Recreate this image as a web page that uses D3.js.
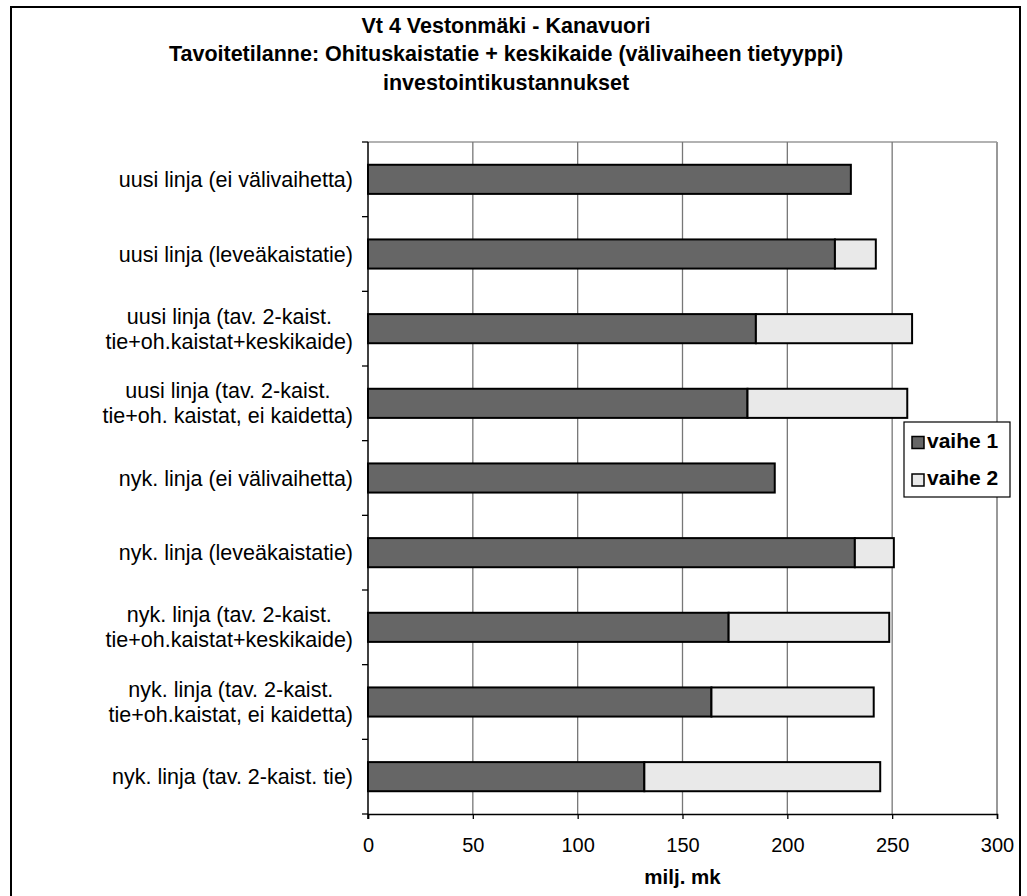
<!DOCTYPE html>
<html>
<head>
<meta charset="utf-8">
<style>
  body { margin: 0; background: #fff; }
  svg { display: block; font-family: "Liberation Sans", Arial, sans-serif; }
</style>
<script src="https://d3js.org/d3.v7.min.js"></script>
</head>
<body>
<svg width="1027" height="896"></svg>
<script>

// chart data (milj. mk)
var categories = [
  "uusi linja (ei välivaihetta)",
  "uusi linja (leveäkaistatie)",
  "uusi linja (tav. 2-kaist.\ntie+oh.kaistat+keskikaide)",
  "uusi linja (tav. 2-kaist.\ntie+oh. kaistat, ei kaidetta)",
  "nyk. linja (ei välivaihetta)",
  "nyk. linja (leveäkaistatie)",
  "nyk. linja (tav. 2-kaist.\ntie+oh.kaistat+keskikaide)",
  "nyk. linja (tav. 2-kaist.\ntie+oh.kaistat, ei kaidetta)",
  "nyk. linja (tav. 2-kaist. tie)"
];
var vaihe1 = [230.3, 222.7, 185, 181, 194, 232.2, 172, 163.8, 131.8];
var vaihe2 = [0, 19.5, 74.5, 76.2, 0, 18.6, 76.6, 77.4, 112.5];
var xTicks = [0, 50, 100, 150, 200, 250, 300];
var seriesNames = ["vaihe 1", "vaihe 2"];
var seriesColors = ["#666666", "#e9e9e9"];
var titleLines = [
  "Vt 4 Vestonmäki - Kanavuori",
  "Tavoitetilanne: Ohituskaistatie + keskikaide (välivaiheen tietyyppi)",
  "investointikustannukset"
];
var xTitle = "milj. mk";

var svg = d3.select("svg");

// outer frame
svg.append("rect")
  .attr("x", 11).attr("y", 7)
  .attr("width", 1009).attr("height", 920)
  .attr("fill", "none").attr("stroke", "#000").attr("stroke-width", 2);

var pLeft = 368, pRight = 997, pTop = 142, pBottom = 814;

var x = d3.scaleLinear().domain([0, 300]).range([pLeft, pRight]);
var y = d3.scaleBand().domain(d3.range(categories.length))
  .range([pTop, pBottom]).paddingInner(0.61).paddingOuter(0.305);

// title
svg.append("g").selectAll("text")
  .data(titleLines)
  .enter().append("text")
  .attr("x", 506)
  .attr("y", function(d, i) { return 32.5 + i * 28.5; })
  .attr("text-anchor", "middle")
  .attr("font-weight", "bold")
  .attr("font-size", 21.5)
  .text(function(d) { return d; });

// grid
svg.append("line")
  .attr("x1", pLeft).attr("x2", pRight).attr("y1", pTop).attr("y2", pTop)
  .attr("stroke", "#999").attr("stroke-width", 1.5);
svg.append("g").selectAll("line")
  .data(xTicks.slice(1))
  .enter().append("line")
  .attr("x1", function(d) { return x(d); })
  .attr("x2", function(d) { return x(d); })
  .attr("y1", pTop).attr("y2", pBottom)
  .attr("stroke", function(d) { return d == 300 ? "#999" : "#777"; })
  .attr("stroke-width", function(d) { return d == 300 ? 2 : 1.3; });

// bottom axis
var xAxis = svg.append("g")
  .attr("transform", "translate(0," + pBottom + ")")
  .call(d3.axisBottom(x).tickValues(xTicks).tickSize(5).tickPadding(19));
xAxis.select(".domain").attr("stroke", "#000").attr("stroke-width", 1.5);
xAxis.selectAll(".tick line").attr("stroke", "#000").attr("stroke-width", 1.3);
xAxis.selectAll("text").attr("font-size", 20).attr("fill", "#000")
  .attr("font-family", "Liberation Sans, Arial, sans-serif");

svg.append("text")
  .attr("x", (pLeft + pRight) / 2)
  .attr("y", 884)
  .attr("text-anchor", "middle")
  .attr("font-weight", "bold")
  .attr("font-size", 20.5)
  .text(xTitle);

// left axis with ticks at band boundaries
svg.append("line")
  .attr("x1", pLeft).attr("x2", pLeft).attr("y1", pTop).attr("y2", pBottom + 5)
  .attr("stroke", "#000").attr("stroke-width", 1.5);
svg.append("g").selectAll("line")
  .data(d3.range(categories.length + 1))
  .enter().append("line")
  .attr("x1", pLeft - 6).attr("x2", pLeft)
  .attr("y1", function(i) { return pTop + i * y.step(); })
  .attr("y2", function(i) { return pTop + i * y.step(); })
  .attr("stroke", "#000").attr("stroke-width", 1.3);

// category labels, each block centered, blocks right-aligned
var labels = svg.append("g").selectAll("text")
  .data(categories)
  .enter().append("text")
  .attr("font-size", 21.5)
  .attr("text-anchor", "middle");
labels.each(function(d, i) {
  var lines = d.split("\n");
  var t = d3.select(this);
  var cy = y(i) + y.bandwidth() / 2;
  lines.forEach(function(l, j) {
    t.append("tspan")
      .attr("y", cy + (j - (lines.length - 1) / 2) * 25 + 7.5)
      .text(l);
  });
  var w = 0;
  t.selectAll("tspan").each(function() { w = Math.max(w, this.getComputedTextLength()); });
  t.selectAll("tspan").attr("x", 353 - w / 2);
});

// bars
var stack = categories.map(function(c, i) { return [vaihe1[i], vaihe2[i]]; });
var bars = svg.append("g");
stack.forEach(function(vals, i) {
  var start = 0;
  vals.forEach(function(v, s) {
    if (v > 0) {
      bars.append("rect")
        .attr("x", x(start))
        .attr("y", y(i))
        .attr("width", x(start + v) - x(start))
        .attr("height", y.bandwidth())
        .attr("fill", seriesColors[s])
        .attr("stroke", "#000")
        .attr("stroke-width", 2);
    }
    start += v;
  });
});

// legend
var lg = svg.append("g");
lg.append("rect")
  .attr("x", 904).attr("y", 422).attr("width", 106).attr("height", 75)
  .attr("fill", "#fff").attr("stroke", "#000").attr("stroke-width", 1.2);
seriesNames.forEach(function(n, i) {
  var cy = 442.5 + i * 37.5;
  lg.append("rect")
    .attr("x", 912).attr("y", cy - 6).attr("width", 12).attr("height", 12)
    .attr("fill", seriesColors[i]).attr("stroke", "#000").attr("stroke-width", 1.5);
  lg.append("text")
    .attr("x", 927).attr("y", cy + 5)
    .attr("font-weight", "bold").attr("font-size", 21)
    .text(n);
});

</script>
</body>
</html>
